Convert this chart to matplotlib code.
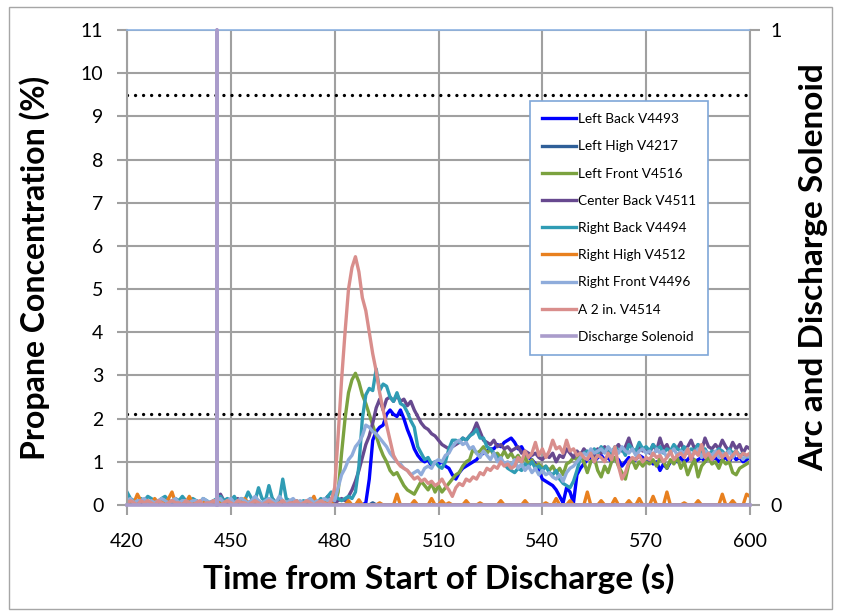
import matplotlib
matplotlib.use("Agg")
import matplotlib.pyplot as plt
from matplotlib.patches import Rectangle

plt.rcParams['font.family'] = ['Lato', 'DejaVu Sans']

time_s = list(range(420, 601))

left_back = [
    0,0,0,0,0,0,0,0,0,0,
    0,0,0,0,0,0,0,0,0,0,
    0,0,0,0,0,0,0,0,0,0,
    0,0,0,0,0,0,0,0,0,0,
    0,0,0,0,0,0,0,0,0,0,
    0,0,0,0,0,0,0,0,0,0,
    0,0,0,0,0,0,0,0,0,0.05,
    0.6,1.5,1.7,1.8,1.85,2.1,2.2,2.1,2.05,2.2,
    2.0,1.75,1.55,1.3,1.15,1.05,1.0,1.05,0.9,1.0,
    0.95,1.0,0.9,0.85,0.7,0.6,0.75,0.85,0.9,0.95,
    1.0,1.05,1.15,1.2,1.25,1.3,1.3,1.4,1.35,1.45,
    1.5,1.55,1.45,1.3,1.35,1.2,1.1,1.05,0.95,0.8,
    0.6,0.55,0.5,0.45,0.35,0.2,0.05,0.4,0.3,0.05,
    0.7,0.85,0.95,1.05,1.1,1.0,1.1,1.15,1.05,1.1,
    1.0,1.1,1.05,0.9,1.0,1.1,1.0,1.05,1.15,1.1,
    1.0,1.05,0.95,1.0,0.8,0.95,0.85,1.0,1.05,1.0,
    1.1,1.0,1.05,1.15,1.0,1.05,1.1,1.0,1.15,1.05,
    1.1,1.0,1.05,1.1,1.0,1.15,1.05,1.1,1.0,1.05,
    1.1]

left_high = [
    0,0,0,0,0,0,0,0,0,0,
    0,0,0,0,0,0,0,0,0,0,
    0,0,0,0,0,0,0,0,0,0,
    0,0,0,0,0,0,0,0,0,0,
    0,0,0,0,0,0,0,0,0,0,
    0,0,0,0,0,0,0,0,0,0,
    0,0,0,0,0,0,0,0,0,0,
    0,0.05,0,0,0,0,0,0,0,0,
    0,0,0,0,0,0,0,0,0,0,
    0,0,0,0,0,0,0,0,0,0,
    0,0,0,0,0,0,0,0,0,0,
    0,0,0,0,0,0,0,0,0,0,
    0,0,0,0,0,0,0,0,0,0,
    0,0,0,0,0,0,0,0,0,0,
    0,0,0,0,0,0,0,0,0,0,
    0,0,0,0,0,0,0,0,0,0,
    0,0,0,0,0,0,0,0,0,0,
    0,0,0,0,0,0,0,0,0,0,
    0]

left_front = [
    0.05,0,0,0.05,0,0,0,0.05,0,0,
    0,0.05,0,0,0,0.05,0,0,0,0.05,
    0,0,0.05,0,0,0,0,0.05,0,0,
    0.05,0,0,0,0.05,0,0,0,0.05,0,
    0,0,0.05,0,0,0,0.05,0,0,0,
    0,0.05,0,0,0,0.05,0,0,0.05,0.1,
    0.0,0.3,1.2,2.0,2.6,2.9,3.05,2.85,2.55,2.35,
    2.1,1.85,1.6,1.35,1.15,1.0,0.8,0.7,0.75,0.6,
    0.45,0.35,0.3,0.25,0.4,0.55,0.45,0.35,0.5,0.3,
    0.45,0.3,0.4,0.5,0.6,0.7,0.75,0.9,1.0,1.05,
    1.3,1.2,1.25,1.35,1.2,1.3,1.15,1.2,1.1,1.25,
    1.1,1.2,1.05,1.15,1.0,1.1,0.95,1.05,0.9,0.95,
    0.85,0.9,0.8,0.9,0.75,0.85,0.7,0.95,1.0,1.1,
    1.05,1.2,1.0,0.75,1.0,1.1,0.8,0.65,0.9,0.75,
    1.0,1.1,0.9,0.75,0.6,0.95,1.05,0.85,1.0,0.9,
    1.0,0.95,1.05,0.9,1.1,1.0,0.85,1.05,0.95,1.1,
    0.85,1.0,0.7,0.9,1.05,0.65,0.9,1.0,1.1,0.95,
    1.0,0.85,1.05,0.95,1.0,0.75,0.7,0.85,0.9,0.95,
    1.0]

center_back = [
    0.05,0.1,0.05,0,0.05,0.1,0.05,0,0.05,0.1,
    0.05,0,0.05,0.1,0.05,0,0.05,0.05,0,0.05,
    0.1,0.05,0,0.05,0.05,0.1,0.05,0.25,0.1,0.05,
    0.05,0.1,0.15,0.05,0,0.05,0.1,0.05,0,0.05,
    0.1,0.05,0.15,0.05,0.1,0.05,0,0.05,0.1,0.05,
    0,0.05,0.1,0.05,0.05,0,0.05,0.1,0.2,0.1,
    0.05,0.1,0.15,0.1,0.2,0.35,0.55,0.8,1.1,1.4,
    1.6,1.9,2.25,2.45,2.2,2.45,2.5,2.4,2.55,2.4,
    2.45,2.3,2.4,2.2,2.05,1.9,1.8,1.75,1.65,1.6,
    1.5,1.4,1.35,1.3,1.35,1.4,1.45,1.55,1.5,1.6,
    1.7,1.9,1.7,1.5,1.45,1.4,1.5,1.35,1.4,1.3,
    1.35,1.25,1.3,1.35,1.2,1.25,1.2,1.15,1.2,1.1,
    1.05,1.15,1.1,1.2,1.0,1.15,1.1,1.3,1.2,1.1,
    1.25,1.15,1.3,1.2,1.25,1.15,1.3,1.2,1.35,1.25,
    1.2,1.3,1.4,1.25,1.35,1.55,1.3,1.2,1.35,1.25,
    1.3,1.2,1.4,1.25,1.55,1.3,1.4,1.2,1.35,1.3,
    1.45,1.25,1.35,1.5,1.3,1.4,1.25,1.55,1.35,1.3,
    1.4,1.3,1.5,1.35,1.25,1.45,1.3,1.4,1.2,1.35,
    1.3]

right_back = [
    0.3,0.15,0.1,0.05,0.15,0.1,0.2,0.15,0.1,0.05,
    0.15,0.2,0.1,0.05,0.15,0.1,0.2,0.1,0.05,0.15,
    0.1,0.05,0.15,0.1,0.05,0.1,0.15,0.2,0.1,0.15,
    0.1,0.2,0.05,0.15,0.1,0.3,0.15,0.1,0.4,0.15,
    0.1,0.45,0.15,0.05,0.1,0.6,0.15,0.1,0.05,0.1,
    0.05,0.1,0.05,0.15,0.1,0.05,0.15,0.1,0.2,0.3,
    0.2,0.15,0.1,0.15,0.2,0.15,0.3,0.9,2.0,2.55,
    2.7,2.65,3.15,2.65,2.8,2.75,2.5,2.4,2.6,2.35,
    2.3,2.15,1.95,1.8,1.35,1.2,1.05,1.1,0.95,1.0,
    0.9,0.85,1.0,1.3,1.5,1.5,1.45,1.55,1.5,1.6,
    1.65,1.75,1.55,1.55,1.35,1.3,1.2,1.1,1.0,0.95,
    0.85,0.8,0.75,0.85,0.8,0.95,0.9,1.0,0.85,0.9,
    0.8,0.9,0.75,0.7,0.8,0.6,0.5,0.45,0.4,0.55,
    0.8,1.1,1.2,1.25,1.15,1.3,1.2,1.35,1.25,1.3,
    1.2,1.35,1.25,1.3,1.15,1.4,1.3,1.25,1.45,1.3,
    1.35,1.25,1.4,1.3,1.35,1.2,1.3,1.25,1.4,1.3,
    1.25,1.35,1.2,1.3,1.25,1.4,1.2,1.3,1.15,1.25,
    1.2,1.3,1.25,1.15,1.3,1.2,1.25,1.15,1.2,1.1,
    1.15]

right_high = [
    0.05,0.1,0.05,0.25,0.1,0.05,0.1,0.0,0.15,0.05,
    0.1,0.05,0.15,0.3,0.05,0.0,0.1,0.05,0.2,0.05,
    0.0,0.05,0.1,0.05,0.0,0.05,0.1,0.0,0.05,0.1,
    0.05,0.0,0.1,0.05,0.15,0.05,0.0,0.05,0.1,0.0,
    0.05,0.1,0.0,0.05,0.0,0.1,0.05,0.0,0.05,0.0,
    0.05,0.0,0.1,0.05,0.2,0.0,0.05,0.0,0.1,0.05,
    0,0,0,0,0.1,0,0,0.12,0,0,
    0,0,0,0.05,0,0,0,0,0.25,0,
    0,0,0,0.1,0,0,0,0,0.15,0,
    0,0.1,0,0.05,0,0,0,0,0.1,0,
    0,0,0.05,0,0,0,0,0,0.1,0,
    0,0,0,0,0,0.1,0,0,0,0,
    0,0.05,0,0,0.15,0,0,0,0.1,0,
    0,0,0,0.3,0,0,0,0.1,0,0,
    0,0.15,0,0,0,0.1,0,0,0.15,0,
    0,0,0.2,0,0,0,0.3,0,0,0,
    0,0.05,0,0,0,0.1,0,0,0,0,
    0,0,0.25,0,0,0.1,0,0,0,0.25,
    0.2]

right_front = [
    0.1,0.15,0.05,0.1,0.1,0.15,0.05,0.1,0.05,0.1,
    0.15,0.1,0.05,0.1,0.15,0.05,0.1,0.1,0.05,0.1,
    0.1,0.05,0.15,0.1,0.05,0.1,0.1,0.15,0.05,0.1,
    0.15,0.05,0.1,0.15,0.1,0.05,0.1,0.2,0.1,0.05,
    0.1,0.15,0.1,0.05,0.2,0.1,0.05,0.1,0.15,0.05,
    0.1,0.05,0.1,0.15,0.05,0.1,0.05,0.15,0.1,0.15,
    0.1,0.4,0.7,0.85,1.05,1.15,1.35,1.45,1.6,1.85,
    1.8,1.7,1.65,1.55,1.45,1.35,1.2,1.1,1.0,0.95,
    0.85,0.8,0.7,0.75,0.8,0.7,0.85,0.9,0.85,1.0,
    1.05,1.0,1.15,1.2,1.35,1.45,1.5,1.4,1.45,1.3,
    1.35,1.2,1.1,1.25,1.15,1.05,1.2,1.0,1.1,0.95,
    1.0,0.9,1.05,0.85,0.95,0.8,0.9,0.75,0.85,0.7,
    0.8,0.7,0.75,0.65,0.6,0.7,0.55,0.75,0.85,0.9,
    1.0,1.1,1.2,1.15,1.3,1.2,1.25,1.3,1.2,1.35,
    1.25,1.3,1.2,1.35,1.25,1.2,1.3,1.15,1.25,1.3,
    1.2,1.25,1.15,1.3,1.2,1.25,1.1,1.2,1.3,1.15,
    1.25,1.2,1.3,1.15,1.2,1.3,1.1,1.25,1.2,1.15,
    1.25,1.1,1.2,1.15,1.25,1.1,1.2,1.15,1.05,1.15,
    1.1]

a_2in = [
    0.05,0.1,0.05,0.0,0.1,0.05,0.1,0.05,0.0,0.1,
    0.05,0.0,0.05,0.1,0.05,0.05,0.0,0.1,0.05,0.0,
    0.05,0.1,0.0,0.05,0.05,0.1,0.05,0.0,0.05,0.1,
    0.05,0.0,0.1,0.05,0.05,0.0,0.05,0.1,0.05,0.0,
    0.05,0.1,0.05,0.0,0.05,0.1,0.0,0.05,0.05,0.1,
    0.0,0.05,0.1,0.05,0.0,0.05,0.1,0.05,0.0,0.1,
    0.4,1.6,2.9,4.0,5.0,5.5,5.75,5.4,4.8,4.5,
    4.0,3.5,3.1,2.6,2.2,1.85,1.5,1.15,1.0,0.9,
    0.85,0.8,0.7,0.6,0.65,0.55,0.6,0.5,0.55,0.45,
    0.5,0.6,0.45,0.35,0.2,0.4,0.5,0.45,0.6,0.55,
    0.65,0.6,0.75,0.7,0.85,0.8,0.9,0.85,1.0,0.9,
    0.95,0.85,0.9,1.1,1.0,1.25,1.1,1.2,1.45,1.15,
    1.3,1.1,1.25,1.5,1.3,1.35,1.2,1.5,1.25,1.3,
    1.15,1.2,1.1,1.05,1.2,1.0,1.15,1.1,1.0,1.2,
    1.05,1.35,0.9,0.6,0.75,1.0,1.1,1.05,1.15,1.0,
    1.1,1.05,1.2,1.1,1.15,1.0,1.1,1.25,1.05,1.15,
    1.2,1.1,1.3,1.05,1.25,1.15,1.4,1.1,1.2,1.05,
    1.15,1.25,1.1,1.2,1.05,1.15,1.25,1.1,1.2,1.15,
    1.2]

solenoid_t = [420, 446, 446, 446, 600]
solenoid_v = [0, 0, 1, 0, 0]

limit_levels = [9.5, 2.1]

series = [
    ("Left Back V4493", left_back, "#0000FF"),
    ("Left High V4217", left_high, "#2F5F98"),
    ("Left Front V4516", left_front, "#7BA23F"),
    ("Center Back V4511", center_back, "#67498F"),
    ("Right Back V4494", right_back, "#2F9CB4"),
    ("Right High V4512", right_high, "#E8801F"),
    ("Right Front V4496", right_front, "#8FACDB"),
    ("A 2 in. V4514", a_2in, "#D98E8C"),
]
solenoid_label = "Discharge Solenoid"
solenoid_color = "#AA9CCB"

grid_c = "#A0A0A0"

fig = plt.figure(figsize=(8.41, 6.16), dpi=100)
fig.patches.append(Rectangle((9/841, 7/616), 823/841, 602/616, transform=fig.transFigure,
                             fill=False, edgecolor="#A6A6A6", linewidth=1.0))
ax = fig.add_axes([127/841, 1 - 505/616, 623/841, 475/616])
ax.set_xlim(420, 600)
ax.set_ylim(0, 11)
ax.set_xticks(range(420, 601, 30))
ax.set_yticks(range(0, 12))
ax.grid(True, color=grid_c, linewidth=1.5, zorder=0)
ax.set_axisbelow(True)

for lvl in limit_levels:
    ax.axhline(lvl, color="black", linewidth=2.4, linestyle=(0, (0.01, 2.4)),
               dash_capstyle="round", zorder=1)

handles = []
for name, vals, col in series:
    ln, = ax.plot(time_s, vals, color=col, linewidth=2.4, label=name, zorder=2)
    handles.append(ln)

for s in ["left", "right", "bottom"]:
    ax.spines[s].set_color(grid_c)
    ax.spines[s].set_linewidth(1.5)
ax.spines["top"].set_color("#8DB3E2")
ax.spines["top"].set_linewidth(1.2)
ax.tick_params(axis="both", direction="out", length=7, width=1.5, color=grid_c,
               labelsize=14)
ax.tick_params(axis="x", pad=13)
ax.tick_params(axis="y", pad=10)

ax.set_xlabel("Time from Start of Discharge (s)", fontsize=24, fontweight="bold", labelpad=10)
ax.set_ylabel("Propane Concentration (%)", fontsize=23, fontweight="bold", labelpad=22)

ax2 = ax.twinx()
ax2.set_ylim(0, 1)
ax2.set_yticks([0, 1])
ln_s, = ax2.plot(solenoid_t, solenoid_v, color=solenoid_color, linewidth=2.6,
                 label=solenoid_label, clip_on=False)
handles.append(ln_s)
for s in ["left", "right", "bottom", "top"]:
    ax2.spines[s].set_visible(False)
ax2.tick_params(axis="y", direction="out", length=7, width=1.5, color=grid_c,
                labelsize=14, pad=8)
ax2.set_ylabel("Arc and Discharge Solenoid", fontsize=24, fontweight="bold", labelpad=12)

leg = ax2.legend(handles=handles, loc="upper left", bbox_to_anchor=(0.647, 0.851),
                 fontsize=9.8, labelspacing=1.12, handlelength=2.5, handletextpad=0.1,
                 borderpad=0.9, borderaxespad=0, frameon=True, fancybox=False, framealpha=1)
leg.get_frame().set_edgecolor("#7FA7D8")
leg.get_frame().set_linewidth(1.2)

fig.savefig("out.png", dpi=100)
